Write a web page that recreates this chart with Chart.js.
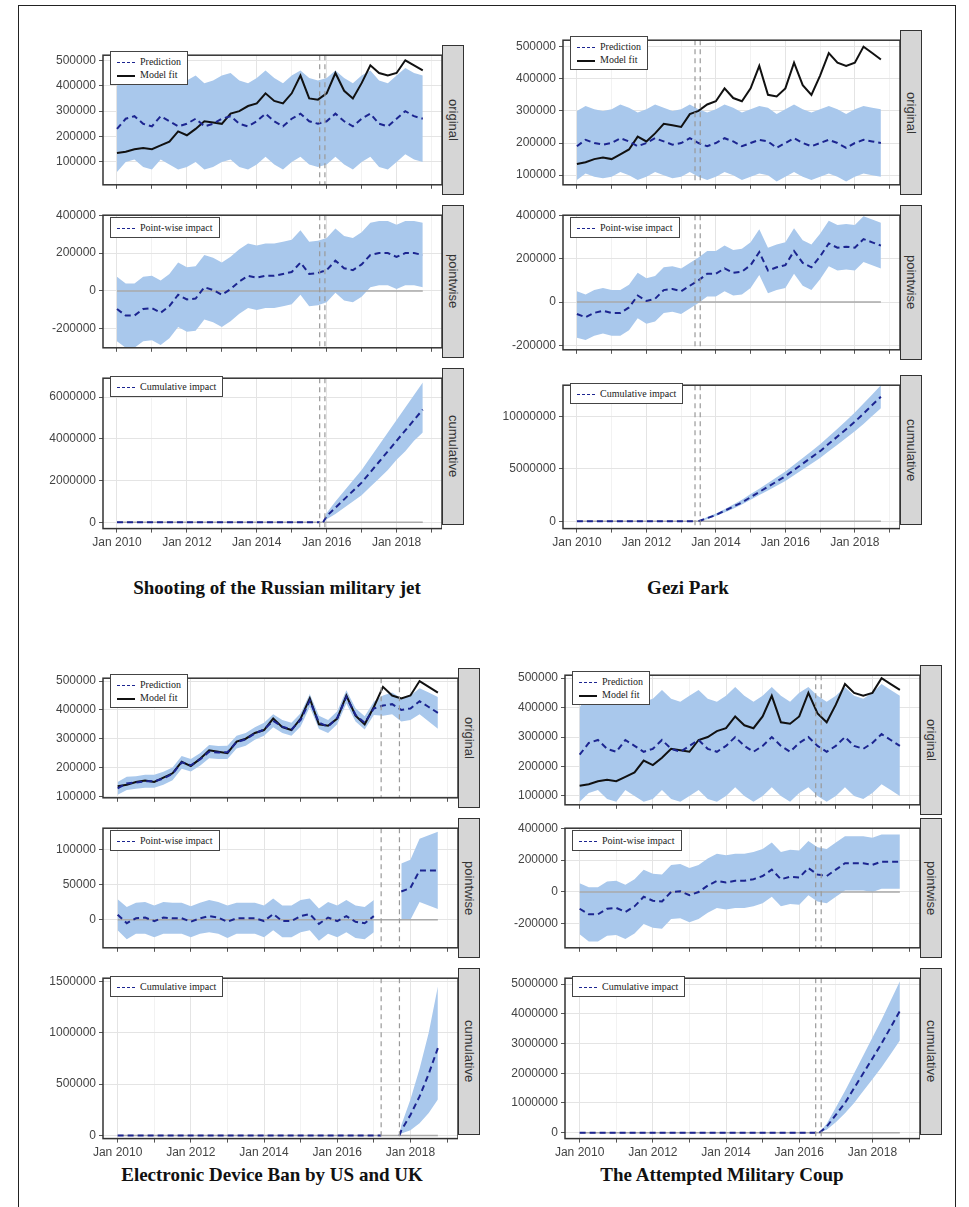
<!DOCTYPE html>
<html>
<head>
<meta charset="utf-8">
<script src="https://cdn.jsdelivr.net/npm/chart.js@4"></script>
<style>
  body { margin: 0; background: #fff; }
  #page { position: relative; width: 969px; height: 1207px; overflow: hidden; }
  #frame { position: absolute; left: 18px; top: 5px; width: 936px; height: 1210px; border: 1.5px solid #222; }
  canvas { position: absolute; }
  .strip { position: absolute; background: #d6d6d6; border: 1px solid #333; box-sizing: border-box;
    writing-mode: vertical-rl; text-align: center; font: 13px "Liberation Sans", Arial; color: #333;
    display: flex; align-items: center; justify-content: center; }
  .leg { position: absolute; background: #fff; border: 1px solid #444; font: 10px "Liberation Serif", serif;
    color: #222; padding: 3px 6px; line-height: 13px; }
  .leg span { display: inline-block; width: 18px; margin-right: 5px; vertical-align: middle; }
  .title { position: absolute; font: bold 19px "Liberation Serif", serif; color: #111; transform: translateX(-50%); white-space: nowrap; }
</style>
</head>
<body>
<div id="page"><div id="frame"></div></div>
<script>
// quarterly time points, Jan 2010 .. Oct 2018
let tiempos = [];
for (let i = 0; i < 36; i++) tiempos.push(2010 + i / 4);

// observed series (model fit), shared by all four panels, thousands
let observado = [135,140,150,155, 150,165,180,220, 205,230,260,255, 250,290,300,320, 330,370,340,330,
  370,440,350,345, 370,450,380,350, 410,480,450,440, 450,500,480,460];

// Shooting of the Russian military jet
let predJet = [230,270,280,250, 240,280,260,240, 250,270,240,250, 270,280,250,240, 260,290,260,240,
  270,290,260,250, 260,290,260,240, 270,290,250,240, 270,300,280,270];
let altoJet = [400,440,450,420, 410,450,430,410, 420,440,410,420, 440,450,420,410, 430,460,430,410,
  440,460,430,420, 430,460,430,410, 440,460,420,410, 440,470,450,440];
let bajoJet = [60,100,110,80, 70,110,90,70, 80,100,70,80, 100,110,80,70, 90,120,90,70,
  100,120,90,80, 90,120,90,70, 100,120,80,70, 100,130,110,100];
let cortesJet = [2015.8, 2015.95];
let cumXJet = [2015.9, 2016, 2016.25, 2016.5, 2016.75, 2017, 2017.25, 2017.5, 2017.75, 2018, 2018.25, 2018.5, 2018.75];
let cumJet = [0, 0.3, 0.7, 1.1, 1.5, 1.9, 2.4, 2.9, 3.4, 3.9, 4.4, 4.9, 5.4];
let cumBajoJet = [0, 0.15, 0.4, 0.7, 1.0, 1.3, 1.7, 2.1, 2.5, 3.0, 3.4, 3.9, 4.3];
let cumAltoJet = [0, 0.45, 1.0, 1.5, 2.0, 2.5, 3.1, 3.7, 4.3, 4.9, 5.5, 6.1, 6.7];

// Gezi Park
let predGezi = [190,210,200,195, 200,215,205,190, 200,215,205,195, 200,215,200,190, 200,215,205,190,
  200,210,205,185, 200,215,200,190, 200,210,200,185, 200,210,205,200];
let altoGezi = [300,315,305,300, 305,320,310,295, 305,320,310,300, 305,320,305,295, 305,320,310,295,
  305,315,310,290, 305,320,305,295, 305,315,305,290, 305,315,310,305];
let bajoGezi = [85,105,95,90, 95,110,100,85, 95,110,100,90, 95,110,95,85, 95,110,100,85,
  95,105,100,80, 95,110,95,85, 95,105,95,80, 95,105,100,95];
let cortesGezi = [2013.4, 2013.55];
let cumXGezi = [2013.5, 2013.75, 2014, 2014.25, 2014.5, 2014.75, 2015, 2015.25, 2015.5, 2015.75, 2016, 2016.25,
  2016.5, 2016.75, 2017, 2017.25, 2017.5, 2017.75, 2018, 2018.25, 2018.5, 2018.75];
let cumGezi = [0, 0.3, 0.6, 1.0, 1.4, 1.8, 2.3, 2.8, 3.3, 3.8, 4.3, 4.9, 5.5, 6.1, 6.7, 7.4, 8.1, 8.8, 9.5, 10.3, 11.1, 11.9];
let cumBajoGezi = [0, 0.2, 0.5, 0.85, 1.2, 1.6, 2.05, 2.5, 2.95, 3.4, 3.85, 4.4, 4.95, 5.5, 6.05, 6.7, 7.3, 7.95, 8.6, 9.3, 10.05, 10.8];
let cumAltoGezi = [0, 0.4, 0.75, 1.15, 1.6, 2.05, 2.6, 3.1, 3.65, 4.2, 4.75, 5.4, 6.05, 6.7, 7.35, 8.1, 8.85, 9.6, 10.4, 11.25, 12.1, 13.0];

// Electronic Device Ban by US and UK
let predBan = [128,145,148,152, 152,162,178,218, 208,228,255,252, 253,288,298,318, 332,362,342,332,
  365,432,356,342, 372,445,383,355, 405, 415,420, 400,405,430,410,390];
let altoBan = [150,168,170,175, 175,185,200,240, 230,250,278,275, 276,310,320,340, 355,385,365,355,
  388,455,380,365, 395,468,406,378, 428, 450,460, 440,450,475,460,445];
let bajoBan = [106,122,126,130, 130,140,156,196, 186,206,232,230, 230,266,276,296, 310,340,320,310,
  342,410,334,320, 350,422,360,332, 382, 380,385, 360,365,385,360,335];
let cortesBan = [2017.2, 2017.7];
let cumXBan = [2017.7, 2017.75, 2018, 2018.25, 2018.5, 2018.75];
let cumBan = [0, 0.05, 0.2, 0.38, 0.6, 0.85];
let cumBajoBan = [0, 0.02, 0.05, 0.12, 0.22, 0.35];
let cumAltoBan = [0, 0.1, 0.35, 0.65, 1.0, 1.45];

// The Attempted Military Coup
let predGolpe = [240,280,290,260, 250,290,270,250, 260,290,260,250, 270,290,260,250, 270,300,270,250,
  270,300,270,250, 280,300,270,250, 270,300,270,260, 280,310,290,270];
let altoGolpe = [400,450,460,430, 420,460,440,420, 430,460,430,420, 440,460,430,420, 440,470,440,420,
  440,470,440,420, 450,470,440,420, 440,470,440,430, 450,480,460,440];
let bajoGolpe = [80,110,120,90, 80,120,100,80, 90,120,90,80, 100,120,90,80, 100,130,100,80,
  100,130,100,80, 110,130,100,80, 100,130,100,90, 110,140,120,100];
let cortesGolpe = [2016.45, 2016.6];
let cumXGolpe = [2016.55, 2016.75, 2017, 2017.25, 2017.5, 2017.75, 2018, 2018.25, 2018.5, 2018.75];
let cumGolpe = [0, 0.2, 0.6, 1.0, 1.5, 2.0, 2.5, 3.0, 3.55, 4.1];
let cumBajoGolpe = [0, 0.1, 0.35, 0.65, 1.0, 1.4, 1.8, 2.2, 2.65, 3.1];
let cumAltoGolpe = [0, 0.3, 0.85, 1.4, 2.0, 2.6, 3.2, 3.8, 4.45, 5.1];

let etiquetasAnio = { 2010: "Jan 2010", 2012: "Jan 2012", 2014: "Jan 2014", 2016: "Jan 2016", 2018: "Jan 2018" };

const AZUL_BANDA = "#a9c8ec";
const AZUL_LINEA = "#1c2590";
const page = document.getElementById("page");

const pts = (xs, ys, k) => xs.map((x, i) => ({ x: x, y: ys[i] == null ? null : ys[i] * k }));

const marco = {
  id: "marco",
  afterDatasetsDraw(chart, args, opts) {
    let ctx = chart.ctx, a = chart.chartArea, xs = chart.scales.x;
    ctx.save();
    ctx.strokeStyle = "#999";
    ctx.lineWidth = 1.2;
    ctx.setLineDash([5, 4]);
    opts.cortes.forEach((c) => {
      let px = xs.getPixelForValue(c);
      ctx.beginPath(); ctx.moveTo(px, a.top); ctx.lineTo(px, a.bottom); ctx.stroke();
    });
    ctx.setLineDash([]);
    ctx.strokeStyle = "#333";
    ctx.lineWidth = 1.5;
    ctx.strokeRect(a.left, a.top, a.right - a.left, a.bottom - a.top);
    ctx.restore();
  },
};

function hacerGrafica(left, top, w, h, datasets, yMin, yMax, paso, cortes, conEjeX) {
  let c = document.createElement("canvas");
  c.width = w; c.height = h;
  c.style.left = left + "px"; c.style.top = top + "px";
  page.appendChild(c);
  new Chart(c, {
    type: "line",
    data: { datasets: datasets },
    plugins: [marco],
    options: {
      responsive: false, animation: false, devicePixelRatio: 1,
      layout: { padding: 0 },
      plugins: { legend: { display: false }, tooltip: { enabled: false }, marco: { cortes: cortes } },
      elements: { point: { radius: 0 } },
      scales: {
        x: {
          type: "linear", min: 2009.6, max: 2019.3,
          afterBuildTicks: (s) => { s.ticks = [2010, 2011, 2012, 2013, 2014, 2015, 2016, 2017, 2018, 2019].map((v) => ({ value: v })); },
          afterFit: (s) => { if (!conEjeX) s.height = 0; },
          grid: { color: (ctx) => (ctx.tick && ctx.tick.value % 2 === 0 ? "#e4e4e4" : "#f2f2f2"), tickColor: "#555", tickLength: 4 },
          border: { display: false },
          ticks: {
            display: conEjeX, maxRotation: 0, autoSkip: false, color: "#444",
            font: { family: "Liberation Sans", size: 12 },
            callback: (v) => etiquetasAnio[v] || "",
          },
        },
        y: {
          min: yMin, max: yMax,
          afterBuildTicks: (s) => {
            let t = [];
            for (let v = Math.ceil(yMin / paso) * paso; v <= yMax; v += paso) t.push({ value: v });
            s.ticks = t;
          },
          afterFit: (s) => { s.width = 90; },
          grid: { color: "#e4e4e4", tickColor: "#555", tickLength: 4 },
          border: { display: false },
          ticks: { color: "#444", font: { family: "Liberation Sans", size: 12 }, callback: (v) => String(Math.round(v)) },
        },
      },
    },
  });
}

function leyenda(x, y, filas) {
  let d = document.createElement("div");
  d.className = "leg";
  d.style.left = x + "px"; d.style.top = y + "px";
  d.innerHTML = filas.map((f) => `<div><span style="border-top:${f[1]}"></span>${f[0]}</div>`).join("");
  page.appendChild(d);
}

function franja(x, y, h, texto) {
  let d = document.createElement("div");
  d.className = "strip";
  d.style.left = x + "px"; d.style.top = y + "px";
  d.style.width = "22px"; d.style.height = h + "px";
  d.textContent = texto;
  page.appendChild(d);
}

function panel(p) {
  let K = 1000, M = 1e6;
  let w = p.plotR - p.plotL;
  // only a wide gap between the two dashed lines leaves the pointwise series empty
  let hueco = p.cortes[1] - p.cortes[0] > 0.3;
  let enCorte = (t) => hueco && t > p.cortes[0] && t < p.cortes[1];
  let pw = observado.map((o, i) => (enCorte(tiempos[i]) ? null : o - p.pred[i]));
  let pwBajo = observado.map((o, i) => (enCorte(tiempos[i]) ? null : o - p.alto[i]));
  let pwAlto = observado.map((o, i) => (enCorte(tiempos[i]) ? null : o - p.bajo[i]));
  let cero = [{ x: 2010, y: 0 }, { x: 2018.75, y: 0 }];
  let gris = { data: cero, borderColor: "#aaa", borderWidth: 1.5, fill: false, order: 2 };
  let banda = (xs, lo, hi, k) => [
    { data: pts(xs, lo, k), borderWidth: 0, fill: false, order: 5 },
    { data: pts(xs, hi, k), borderWidth: 0, backgroundColor: AZUL_BANDA, fill: "-1", order: 4 },
  ];
  let guion = (data) => ({ data: data, borderColor: AZUL_LINEA, borderWidth: 2, borderDash: [6, 4], fill: false, order: 0 });

  // original
  hacerGrafica(p.plotL - 90, p.filas[0][0], w + 90, p.filas[0][1], [
    ...banda(tiempos, p.bajo, p.alto, K),
    { data: pts(tiempos, observado, K), borderColor: "#111", borderWidth: 2, fill: false, order: 1 },
    guion(pts(tiempos, p.pred, K)),
  ], p.yOrig[0], p.yOrig[1], 100000, p.cortes, false);

  // pointwise
  hacerGrafica(p.plotL - 90, p.filas[1][0], w + 90, p.filas[1][1], [
    ...banda(tiempos, pwBajo, pwAlto, K),
    gris,
    guion(pts(tiempos, pw, K)),
  ], p.yPw[0], p.yPw[1], p.yPw[2], p.cortes, false);

  // cumulative
  hacerGrafica(p.plotL - 90, p.filas[2][0], w + 90, p.filas[2][1] + 28, [
    ...banda(p.cumX, p.cumBajo, p.cumAlto, M),
    gris,
    guion([{ x: 2010, y: 0 }, { x: p.cortes[0], y: 0 }]),
    guion(pts(p.cumX, p.cum, M)),
  ], p.yCum[0], p.yCum[1], p.yCum[2], p.cortes, true);

  franja(p.plotR, p.filas[0][0], p.filas[0][1], "original");
  franja(p.plotR, p.filas[1][0], p.filas[1][1], "pointwise");
  franja(p.plotR, p.filas[2][0], p.filas[2][1], "cumulative");

  let dash = "1.5px dashed " + AZUL_LINEA;
  leyenda(p.plotL + 7, p.filas[0][0] + 6, [["Prediction", dash], ["Model fit", "2.5px solid #111"]]);
  leyenda(p.plotL + 7, p.filas[1][0] + 12, [["Point-wise impact", dash]]);
  leyenda(p.plotL + 7, p.filas[2][0] + 8, [["Cumulative impact", dash]]);

  let t = document.createElement("div");
  t.className = "title";
  t.style.left = p.tituloX + "px"; t.style.top = p.tituloY + "px";
  t.textContent = p.titulo;
  page.appendChild(t);
}

panel({
  plotL: 103, plotR: 442, filas: [[45, 150], [205, 153], [368, 157]],
  pred: predJet, alto: altoJet, bajo: bajoJet, cortes: cortesJet,
  cumX: cumXJet, cum: cumJet, cumBajo: cumBajoJet, cumAlto: cumAltoJet,
  yOrig: [10000, 520000], yPw: [-300000, 400000, 200000], yCum: [-300000, 6900000, 2000000],
  titulo: "Shooting of the Russian military jet", tituloX: 277, tituloY: 577,
});
panel({
  plotL: 563, plotR: 900, filas: [[30, 165], [205, 155], [375, 150]],
  pred: predGezi, alto: altoGezi, bajo: bajoGezi, cortes: cortesGezi,
  cumX: cumXGezi, cum: cumGezi, cumBajo: cumBajoGezi, cumAlto: cumAltoGezi,
  yOrig: [70000, 520000], yPw: [-220000, 400000, 200000], yCum: [-700000, 13000000, 5000000],
  titulo: "Gezi Park", tituloX: 688, tituloY: 577,
});
panel({
  plotL: 103, plotR: 458, filas: [[668, 140], [818, 140], [968, 167]],
  pred: predBan, alto: altoBan, bajo: bajoBan, cortes: cortesBan,
  cumX: cumXBan, cum: cumBan, cumBajo: cumBajoBan, cumAlto: cumAltoBan,
  yOrig: [95000, 510000], yPw: [-40000, 130000, 50000], yCum: [-30000, 1530000, 500000],
  titulo: "Electronic Device Ban by US and UK", tituloX: 272, tituloY: 1164,
});
panel({
  plotL: 565, plotR: 920, filas: [[665, 150], [818, 140], [968, 167]],
  pred: predGolpe, alto: altoGolpe, bajo: bajoGolpe, cortes: cortesGolpe,
  cumX: cumXGolpe, cum: cumGolpe, cumBajo: cumBajoGolpe, cumAlto: cumAltoGolpe,
  yOrig: [70000, 510000], yPw: [-350000, 400000, 200000], yCum: [-200000, 5200000, 1000000],
  titulo: "The Attempted Military Coup", tituloX: 722, tituloY: 1164,
});
</script>
</body>
</html>
